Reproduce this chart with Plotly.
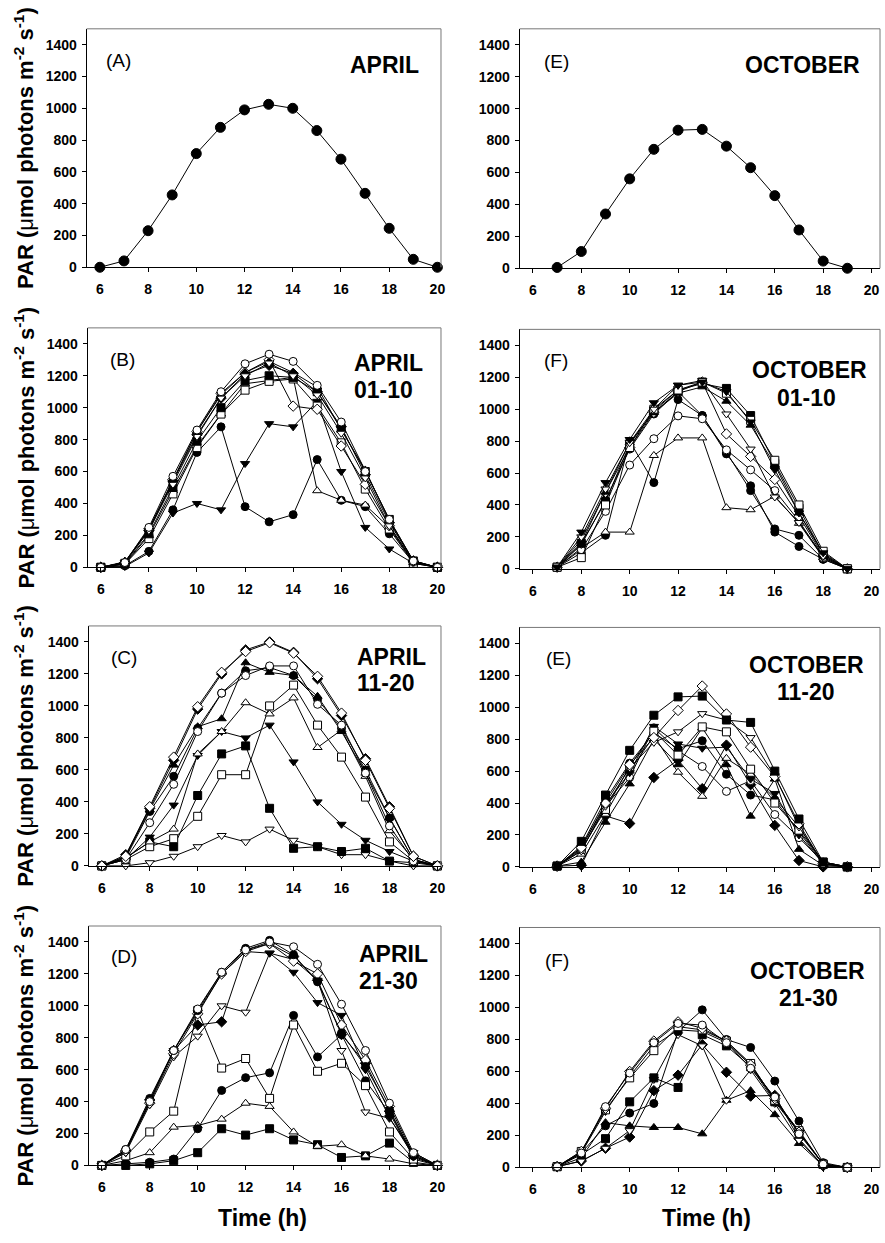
import plotly.graph_objects as go

# ---------------- data ----------------
hours_apr = list(range(6, 21))
hours_oct = list(range(7, 20))
x_ticks = [6, 8, 10, 12, 14, 16, 18, 20]
y_ticks = [0, 200, 400, 600, 800, 1000, 1200, 1400]

apr_mean = [0, 40, 230, 455, 715, 880, 990, 1025, 1000, 860, 680, 465, 245, 50, 0]
oct_mean = [5, 105, 340, 560, 745, 865, 870, 765, 630, 455, 240, 45, 0]

# April 01-10
b_open_circle = [0, 30, 250, 570, 860, 1100, 1275, 1335, 1290, 1140, 910, 600, 300, 40, 0]
b_filled_circle = [0, 10, 100, 360, 720, 880, 380, 285, 330, 675, 420, 380, 210, 30, 0]
b_filled_tri_down = [0, 5, 90, 340, 400, 360, 650, 900, 880, 1040, 600, 250, 115, 25, 0]
b_open_tri_up = [0, 20, 200, 480, 760, 960, 1150, 1170, 1190, 480, 420, 390, 250, 30, 0]
b_open_diamond = [0, 30, 240, 550, 850, 1090, 1220, 1300, 1010, 990, 760, 520, 260, 35, 0]
b_open_square = [0, 20, 180, 460, 750, 960, 1110, 1165, 1180, 1010, 780, 490, 240, 25, 0]
b_filled_square = [0, 25, 210, 500, 790, 1000, 1170, 1200, 1190, 1100, 870, 600, 300, 40, 0]
b_filled_diamond = [0, 30, 230, 540, 830, 1060, 1210, 1265, 1215, 1100, 880, 580, 280, 40, 0]
b_filled_tri_up = [0, 35, 240, 550, 850, 1080, 1220, 1290, 1220, 1130, 860, 610, 290, 40, 0]
b_open_tri_down = [0, 30, 230, 520, 820, 1060, 1200, 1280, 1200, 1080, 840, 560, 260, 35, 0]

# April 11-20
c_open_diamond = [0, 60, 370, 680, 995, 1210, 1340, 1395, 1330, 1185, 955, 660, 360, 60, 0]
c_filled_diamond = [0, 70, 360, 660, 980, 1200, 1350, 1400, 1335, 1170, 940, 670, 370, 60, 0]
c_open_circle = [0, 40, 270, 510, 840, 1080, 1190, 1250, 1250, 1010, 880, 580, 250, 30, 0]
c_filled_tri_up = [0, 60, 350, 630, 870, 920, 1270, 1210, 1190, 1060, 840, 580, 300, 40, 0]
c_filled_circle = [0, 50, 340, 560, 860, 1080, 1220, 1240, 1190, 1040, 860, 600, 300, 40, 0]
c_filled_square = [0, 50, 150, 120, 440, 700, 750, 360, 110, 120, 90, 110, 30, 20, 0]
c_open_square = [0, 40, 120, 170, 310, 570, 570, 1000, 1130, 880, 680, 430, 150, 30, 0]
c_open_tri_up = [0, 50, 150, 230, 700, 840, 1020, 950, 1050, 740, 850, 560, 220, 40, 0]
c_filled_tri_down = [0, 40, 180, 380, 690, 840, 800, 880, 650, 400, 260, 160, 90, 30, 0]
c_open_tri_down = [0, 0, 20, 60, 120, 190, 150, 230, 160, 120, 70, 70, 30, 0, 0]

# April 21-30
d_open_circle = [0, 100, 400, 720, 980, 1210, 1350, 1400, 1370, 1260, 1010, 720, 390, 80, 0]
d_filled_diamond = [0, 90, 410, 720, 880, 900, 1350, 1390, 1310, 1160, 820, 640, 340, 60, 0]
d_open_tri_down = [0, 80, 380, 680, 810, 1000, 960, 1330, 1290, 1160, 720, 335, 295, 80, 0]
d_open_square = [0, 60, 210, 340, 970, 610, 670, 420, 880, 590, 640, 500, 210, 40, 0]
d_filled_circle = [0, 10, 20, 40, 230, 470, 550, 580, 940, 680, 820, 530, 330, 50, 0]
d_open_tri_up = [0, 30, 80, 240, 250, 290, 390, 370, 210, 120, 130, 60, 40, 10, 0]
d_filled_square = [0, 0, 10, 30, 80, 230, 190, 230, 160, 130, 50, 60, 140, 20, 0]
d_filled_tri_down = [0, 90, 400, 720, 960, 1200, 1340, 1330, 1210, 1020, 940, 600, 300, 60, 0]
d_filled_circle2 = [0, 100, 420, 720, 970, 1210, 1360, 1410, 1320, 1150, 830, 620, 350, 60, 0]
d_open_diamond = [0, 90, 390, 700, 950, 1200, 1340, 1390, 1280, 1200, 880, 660, 370, 70, 0]

# October 01-10
f_filled_tri_down = [10, 230, 540, 810, 1040, 1150, 1170, 1110, 920, 620, 350, 100, 0]
f_open_square = [10, 70, 400, 760, 1000, 1120, 1170, 1100, 930, 680, 400, 110, 0]
f_filled_tri_up = [10, 180, 480, 790, 980, 1100, 1140, 1050, 900, 650, 350, 90, 0]
f_open_circle = [10, 120, 360, 650, 815, 958, 940, 745, 620, 490, 300, 70, 0]
f_open_tri_up = [10, 130, 230, 230, 710, 820, 820, 383, 370, 455, 285, 70, 0]
f_open_diamond = [10, 160, 480, 760, 980, 1110, 1170, 845, 704, 560, 330, 80, 0]
f_filled_circle = [10, 100, 210, 800, 540, 1060, 960, 720, 520, 230, 140, 60, 0]
f_filled_circle2 = [10, 150, 430, 750, 970, 1110, 960, 730, 490, 250, 210, 60, 0]
f_open_tri_down = [10, 200, 500, 790, 1000, 1150, 1180, 970, 750, 450, 290, 80, 0]
f_filled_square = [10, 160, 420, 780, 990, 1120, 1160, 1130, 960, 660, 380, 90, 0]

# October 11-20
e_filled_square = [5, 160, 450, 730, 950, 1065, 1070, 920, 905, 600, 300, 30, 0]
e_open_diamond = [5, 120, 400, 640, 810, 980, 1133, 958, 750, 566, 270, 20, 0]
e_open_tri_down = [5, 100, 380, 620, 780, 846, 960, 920, 810, 570, 250, 20, 0]
e_filled_diamond = [5, 10, 320, 272, 560, 670, 490, 763, 515, 260, 40, 0, 0]
e_open_circle = [5, 100, 380, 560, 871, 728, 629, 473, 540, 328, 183, 30, 0]
e_open_tri_up = [5, 80, 330, 600, 820, 593, 442, 680, 580, 430, 250, 30, 0]
e_filled_tri_up = [5, 30, 280, 520, 800, 640, 871, 640, 318, 550, 110, 10, 0]
e_filled_circle = [5, 130, 420, 650, 840, 740, 790, 580, 450, 420, 220, 20, 0]
e_filled_tri_down = [5, 120, 390, 590, 880, 770, 743, 750, 550, 460, 200, 20, 0]
e_open_square = [5, 110, 360, 630, 850, 700, 877, 846, 612, 400, 230, 30, 0]

# October 21-30
g_filled_circle = [5, 90, 260, 340, 400, 850, 985, 800, 750, 540, 290, 30, 0]
g_open_circle = [5, 90, 380, 590, 780, 900, 890, 780, 620, 440, 210, 20, 0]
g_filled_square = [5, 80, 180, 410, 560, 500, 830, 760, 630, 410, 220, 20, 0]
g_filled_tri_up = [5, 60, 280, 260, 250, 250, 210, 420, 480, 330, 150, 10, 0]
g_filled_diamond = [5, 40, 120, 190, 480, 577, 768, 595, 446, 450, 180, 10, 0]
g_open_tri_down = [5, 40, 120, 230, 550, 830, 760, 420, 610, 400, 170, 10, 0]
g_open_square = [5, 100, 360, 560, 730, 880, 860, 790, 650, 420, 230, 20, 0]
g_open_diamond = [5, 100, 370, 600, 790, 910, 870, 790, 640, 430, 220, 20, 0]
g_filled_tri_down = [5, 90, 350, 570, 760, 860, 850, 780, 640, 420, 220, 20, 0]

# ---------------- styles ----------------
FC = ("circle", "black")
OC = ("circle", "white")
FS = ("square", "black")
OS = ("square", "white")
FD = ("diamond", "black")
OD = ("diamond", "white")
FTU = ("triangle-up", "black")
OTU = ("triangle-up", "white")
FTD = ("triangle-down", "black")
OTD = ("triangle-down", "white")

W, H = 885, 1243
FONT = "Arial, Liberation Sans, sans-serif"

# panel geometry in pixels: (left, right, zero_y, top_y, xmax)
panels = [
    dict(geo=(87, 443, 269, 29, 20.15), x=hours_apr, big=True,
         series=[(apr_mean, FC)], lab="(A)", labpos=(119, 61),
         title=["APRIL"], tpos=[(350, 65)], tanchor="left"),
    dict(geo=(522, 884, 270, 29, 20.35), x=hours_oct, big=True,
         series=[(oct_mean, FC)], lab="(E)", labpos=(559, 62),
         title=["OCTOBER"], tpos=[(806, 65)], tanchor="center"),
    dict(geo=(88, 443, 571, 330, 20.15), x=hours_apr, big=False,
         series=[(b_filled_circle, FC), (b_filled_tri_down, FTD), (b_open_tri_up, OTU),
                 (b_open_square, OS), (b_filled_square, FS), (b_open_diamond, OD),
                 (b_filled_diamond, FD), (b_filled_tri_up, FTU), (b_open_tri_down, OTD),
                 (b_open_circle, OC)],
         lab="(B)", labpos=(123, 362),
         title=["APRIL", "01-10"], tpos=[(354, 365), (354, 393)], tanchor="left"),
    dict(geo=(522, 884, 572.5, 331.5, 20.35), x=hours_oct, big=False,
         series=[(f_filled_circle, FC), (f_filled_circle2, FC), (f_open_tri_up, OTU),
                 (f_open_circle, OC), (f_open_diamond, OD), (f_filled_tri_up, FTU),
                 (f_filled_square, FS), (f_open_square, OS), (f_open_tri_down, OTD),
                 (f_filled_tri_down, FTD)],
         lab="(F)", labpos=(559, 363),
         title=["OCTOBER", "01-10"], tpos=[(813, 372), (810, 401)], tanchor="center"),
    dict(geo=(89, 443, 871.5, 630, 20.15), x=hours_apr, big=False,
         series=[(c_open_tri_down, OTD), (c_filled_square, FS), (c_open_square, OS),
                 (c_filled_tri_down, FTD), (c_open_tri_up, OTU), (c_filled_tri_up, FTU),
                 (c_filled_circle, FC), (c_open_circle, OC), (c_filled_diamond, FD),
                 (c_open_diamond, OD)],
         lab="(C)", labpos=(125, 662),
         title=["APRIL", "11-20"], tpos=[(357, 661), (357, 687)], tanchor="left"),
    dict(geo=(522, 884, 872.5, 631.5, 20.35), x=hours_oct, big=False,
         series=[(e_filled_diamond, FD), (e_open_circle, OC), (e_open_tri_up, OTU),
                 (e_filled_tri_up, FTU), (e_filled_circle, FC), (e_filled_tri_down, FTD),
                 (e_open_square, OS), (e_open_tri_down, OTD), (e_open_diamond, OD),
                 (e_filled_square, FS)],
         lab="(E)", labpos=(561, 663),
         title=["OCTOBER", "11-20"], tpos=[(810, 669), (810, 696)], tanchor="center"),
    dict(geo=(89, 443, 1173, 932, 20.15), x=hours_apr, big=False,
         series=[(d_filled_square, FS), (d_open_tri_up, OTU), (d_filled_circle, FC),
                 (d_open_square, OS), (d_open_tri_down, OTD), (d_filled_diamond, FD),
                 (d_filled_tri_down, FTD), (d_open_diamond, OD), (d_filled_circle2, FC),
                 (d_open_circle, OC)],
         lab="(D)", labpos=(125, 963),
         title=["APRIL", "21-30"], tpos=[(359, 960), (359, 987)], tanchor="left"),
    dict(geo=(522, 884, 1175, 933.5, 20.35), x=hours_oct, big=False,
         series=[(g_filled_tri_up, FTU), (g_filled_diamond, FD), (g_open_tri_down, OTD),
                 (g_filled_square, FS), (g_filled_circle, FC), (g_filled_tri_down, FTD),
                 (g_open_square, OS), (g_open_diamond, OD), (g_open_circle, OC)],
         lab="(F)", labpos=(560, 967),
         title=["OCTOBER", "21-30"], tpos=[(811, 977), (812, 1004)], tanchor="center"),
]

fig = go.Figure()
annotations = []
shapes = []


def px(xp):
    return xp / W


def py(yp):
    return 1 - yp / H


x_ticktext = [f"<b>{v}</b>" for v in x_ticks]
y_ticktext = [f"<b>{v}</b>" for v in y_ticks]

for i, p in enumerate(panels, start=1):
    left, right, zero, top, xmax = p["geo"]
    xa = "x" if i == 1 else f"x{i}"
    ya = "y" if i == 1 else f"y{i}"
    msize = 10 if p["big"] else 8
    for vals, (sym, col) in p["series"]:
        fig.add_trace(go.Scatter(
            x=p["x"], y=vals, xaxis=xa, yaxis=ya, mode="lines+markers",
            line=dict(color="black", width=1),
            marker=dict(symbol=sym, size=msize, color=col,
                        line=dict(color="black", width=1)),
            cliponaxis=False, showlegend=False, hoverinfo="skip"))
    tick_font = dict(family=FONT, size=14, color="black")
    fig.layout[("xaxis" if i == 1 else f"xaxis{i}")] = dict(
        domain=[px(left), px(right)], range=[5.45, xmax], anchor=ya,
        tickvals=x_ticks, ticktext=x_ticktext, ticks="outside", ticklen=4,
        tickcolor="black",
        showline=True, linecolor="black", linewidth=1, showgrid=False, zeroline=False,
        tickfont=tick_font, ticklabelstandoff=5)
    fig.layout[("yaxis" if i == 1 else f"yaxis{i}")] = dict(
        domain=[py(zero), py(top)], range=[0, 1500], anchor=xa,
        tickvals=y_ticks, ticktext=y_ticktext, ticks="outside", ticklen=4,
        tickcolor="black",
        showline=True, linecolor="black", linewidth=1, showgrid=False, zeroline=False,
        tickfont=tick_font, ticklabelstandoff=2)
    # light top/right frame
    shapes.append(dict(type="line", xref="paper", yref="paper",
                       x0=px(left), x1=px(right), y0=py(top), y1=py(top),
                       line=dict(color="#777777", width=1)))
    shapes.append(dict(type="line", xref="paper", yref="paper",
                       x0=px(right), x1=px(right), y0=py(top), y1=py(zero),
                       line=dict(color="#777777", width=1)))
    annotations.append(dict(text=p["lab"], x=px(p["labpos"][0]), y=py(p["labpos"][1]),
                            xref="paper", yref="paper", showarrow=False,
                            xanchor="center", yanchor="middle",
                            font=dict(family=FONT, size=19, color="black")))
    for t, (tx, ty) in zip(p["title"], p["tpos"]):
        annotations.append(dict(text=f"<b>{t}</b>", x=px(tx), y=py(ty),
                                xref="paper", yref="paper", showarrow=False,
                                xanchor=p["tanchor"], yanchor="middle",
                                font=dict(family=FONT, size=23, color="black")))
    if left < 200:
        annotations.append(dict(
            text="<b>PAR (</b>\u03bc<b>mol photons m<sup>-2</sup> s<sup>-1</sup>)</b>",
            x=px(24), y=py((zero + top) / 2), xref="paper", yref="paper",
            showarrow=False, textangle=-90, xanchor="center", yanchor="middle",
            font=dict(family=FONT, size=22, color="black")))

for cx in (264, 710):
    annotations.append(dict(text="<b>Time (h)</b>", x=px(cx), y=py(1226),
                            xref="paper", yref="paper", showarrow=False,
                            xanchor="center", yanchor="middle",
                            font=dict(family=FONT, size=23, color="black")))

fig.update_layout(width=W, height=H, margin=dict(l=0, r=0, t=0, b=0),
                  paper_bgcolor="white", plot_bgcolor="white",
                  annotations=annotations, shapes=shapes, showlegend=False)

fig.write_html("out.html", config={"displayModeBar": False},
               post_script="document.body.style.margin='0';"
                           "document.body.style.overflow='hidden';")
